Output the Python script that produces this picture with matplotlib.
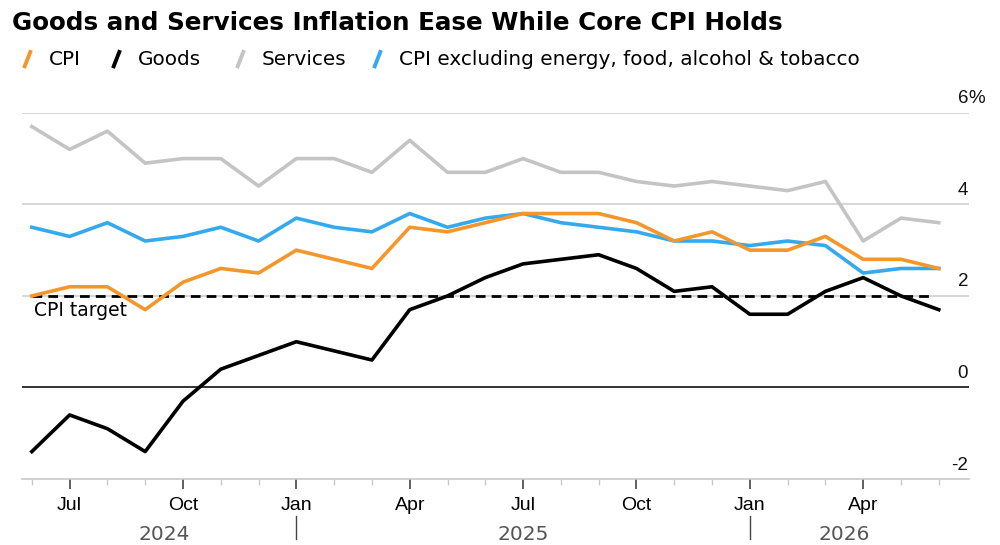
import matplotlib.pyplot as plt
from matplotlib.lines import Line2D

plt.rcParams["font.family"] = ["Liberation Sans", "DejaVu Sans"]

# monthly data, Jun 2024 .. Jun 2026
months = ["Jun", "Jul", "Aug", "Sep", "Oct", "Nov", "Dec",
          "Jan", "Feb", "Mar", "Apr", "May", "Jun", "Jul", "Aug", "Sep", "Oct", "Nov", "Dec",
          "Jan", "Feb", "Mar", "Apr", "May", "Jun"]
cpi = [2.0, 2.2, 2.2, 1.7, 2.3, 2.6, 2.5, 3.0, 2.8, 2.6, 3.5, 3.4, 3.6,
       3.8, 3.8, 3.8, 3.6, 3.2, 3.4, 3.0, 3.0, 3.3, 2.8, 2.8, 2.6]
goods = [-1.4, -0.6, -0.9, -1.4, -0.3, 0.4, 0.7, 1.0, 0.8, 0.6, 1.7, 2.0, 2.4,
         2.7, 2.8, 2.9, 2.6, 2.1, 2.2, 1.6, 1.6, 2.1, 2.4, 2.0, 1.7]
services = [5.7, 5.2, 5.6, 4.9, 5.0, 5.0, 4.4, 5.0, 5.0, 4.7, 5.4, 4.7, 4.7,
            5.0, 4.7, 4.7, 4.5, 4.4, 4.5, 4.4, 4.3, 4.5, 3.2, 3.7, 3.6]
core = [3.5, 3.3, 3.6, 3.2, 3.3, 3.5, 3.2, 3.7, 3.5, 3.4, 3.8, 3.5, 3.7,
        3.8, 3.6, 3.5, 3.4, 3.2, 3.2, 3.1, 3.2, 3.1, 2.5, 2.6, 2.6]
target = 2.0
y_ticks = [-2, 0, 2, 4, 6]
years = ["2024", "2025", "2026"]

c_cpi = "#F5962B"
c_goods = "#000000"
c_serv = "#C4C4C4"
c_core = "#35A9EE"

fig = plt.figure(figsize=(10, 5.45), dpi=100)
ax = fig.add_axes([0.022, 0.121, 0.947, 0.672])

x = list(range(len(months)))
ax.set_xlim(-0.26, 24.8)
ax.set_ylim(-2, 6)

# grid lines + right-side labels sitting above them
ytr = ax.get_yaxis_transform()
for v in y_ticks:
    if v == 0:
        ax.axhline(v, color="#222222", lw=1.3, zorder=1)
    elif v != -2:
        ax.axhline(v, color="#CFCFCF", lw=1.2, zorder=1)
    ax.text(0.999, v + 0.12, str(v), transform=ytr,
            ha="right", va="bottom", fontsize=13.5, color="#111111")
ax.text(0.999, 6.12, "%", transform=ytr, ha="left", va="bottom", fontsize=13.5, color="#111111")

ax.plot([x[0], x[-1] - 0.15], [target, target], color="black", lw=2, ls=(0, (3.5, 2.2)), zorder=2)
ax.text(x[0] + 0.05, target - 0.12, "CPI target", ha="left", va="top", fontsize=13.5,
        family="DejaVu Sans")

ax.plot(x, services, color=c_serv, lw=2.6, zorder=3)
ax.plot(x, core, color=c_core, lw=2.6, zorder=4)
ax.plot(x, cpi, color=c_cpi, lw=2.6, zorder=5)
ax.plot(x, goods, color=c_goods, lw=2.6, zorder=6)

for s in ["top", "left", "right"]:
    ax.spines[s].set_visible(False)
ax.spines["bottom"].set_color("#C8C8C8")
ax.spines["bottom"].set_linewidth(1.2)
ax.set_yticks([])

major = [i for i, m in enumerate(months) if m in ("Jan", "Apr", "Jul", "Oct")]
ax.set_xticks(major)
ax.set_xticklabels([months[i] for i in major], fontsize=14)
ax.set_xticks(x, minor=True)
ax.tick_params(axis="x", which="major", length=7, width=1.2, color="#444444", pad=6)
ax.tick_params(axis="x", which="minor", length=4, width=1, color="#C8C8C8")

# year row
trans = ax.get_xaxis_transform()
for yr, pos in zip(years, [3.5, 13, 21.5]):
    ax.text(pos, -0.125, yr, transform=trans, ha="center",
            va="top", fontsize=14.5, color="#555555", family="DejaVu Sans")
for pos in [7, 19]:
    ax.plot([pos, pos], [-0.10, -0.165], transform=trans, color="#444444", lw=1, clip_on=False)

# title and legend
fig.text(0.012, 0.958, "Goods and Services Inflation Ease While Core CPI Holds",
         fontsize=17.7, fontweight="bold", va="center", ha="left", family="DejaVu Sans")
legend = [("CPI", c_cpi, 0.024), ("Goods", c_goods, 0.113),
          ("Services", c_serv, 0.237), ("CPI excluding energy, food, alcohol & tobacco", c_core, 0.374)]
for label, col, xs in legend:
    fig.add_artist(Line2D([xs, xs + 0.007], [0.875, 0.908], color=col, lw=2.8,
                          transform=fig.transFigure, solid_capstyle="butt"))
    fig.text(xs + 0.025, 0.891, label, fontsize=14.4, va="center", ha="left", family="DejaVu Sans")

fig.savefig("out.png", dpi=100)
